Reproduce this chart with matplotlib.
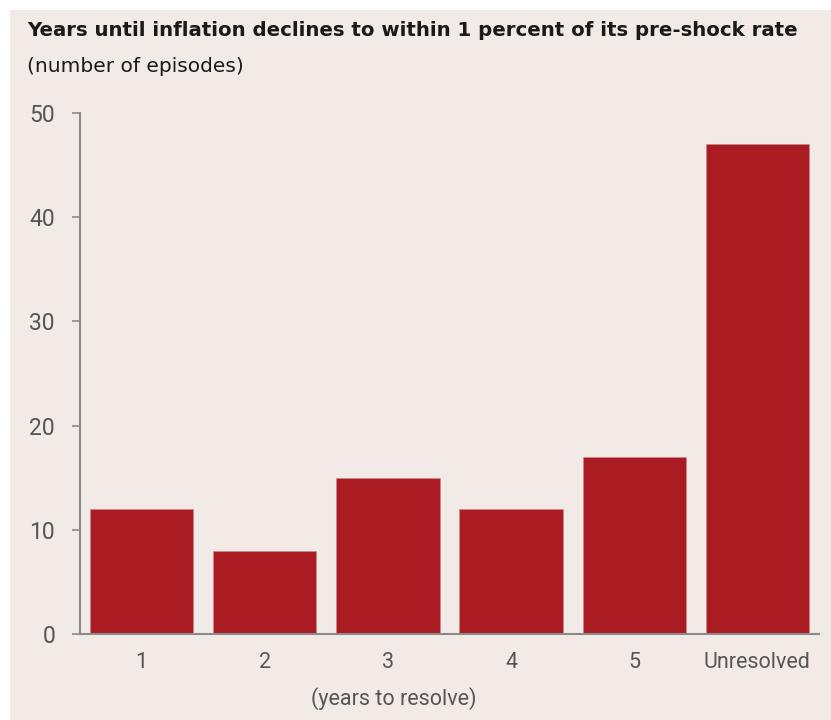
import matplotlib
matplotlib.use("Agg")
import matplotlib.pyplot as plt
from matplotlib.patches import Rectangle

# data
categories = ["1", "2", "3", "4", "5", "Unresolved"]
episodes = [12, 8, 15, 12, 17, 47]
y_ticks = [0, 10, 20, 30, 40, 50]

bg = "#F1EAE7"
bar_color = "#AA1C22"
grey = "#555555"
narrow = ["Roboto", "DejaVu Sans"]

fig = plt.figure(figsize=(8.31, 7.2), dpi=100)
fig.patch.set_facecolor("white")
fig.patches.append(Rectangle((10 / 831, 0), 1, 710 / 720, transform=fig.transFigure,
                             facecolor=bg, edgecolor="none", zorder=-10))

ax = fig.add_axes([80 / 831, 1 - 634 / 720, 739 / 831, 521 / 720])
ax.set_facecolor(bg)
x = list(range(len(categories)))
ax.bar(x, episodes, width=0.84, color=bar_color, edgecolor="#C9888A", linewidth=0.6)

ax.set_xlim(-0.5, 5.5)
ax.set_ylim(0, 50)
ax.set_yticks(y_ticks)
ax.set_xticks(x)
ax.set_xticklabels(categories)
for s in ["top", "right"]:
    ax.spines[s].set_visible(False)
for s in ["left", "bottom"]:
    ax.spines[s].set_color("#8a8a8a")
    ax.spines[s].set_linewidth(1.5)
ax.tick_params(axis="y", length=6, width=1.2, color="#8a8a8a", pad=12, labelsize=16.5, labelcolor=grey)
ax.tick_params(axis="x", length=0, pad=13, labelsize=15.5, labelcolor=grey)
for lab in ax.get_xticklabels() + ax.get_yticklabels():
    lab.set_family(narrow)

ax.text(2.05, -6.2, "(years to resolve)", ha="center", va="center", fontsize=15.5,
        color=grey, family=narrow)

fig.text(27 / 831, 1 - 30 / 720, "Years until inflation declines to within 1 percent of its pre-shock rate",
         fontsize=14.2, fontweight="bold", color="#1a1a1a", va="center", ha="left")
fig.text(27 / 831, 1 - 67 / 720, "(number of episodes)", fontsize=14.5, color="#1a1a1a",
         va="center", ha="left")

fig.savefig("out.png", dpi=100, facecolor=fig.get_facecolor())
